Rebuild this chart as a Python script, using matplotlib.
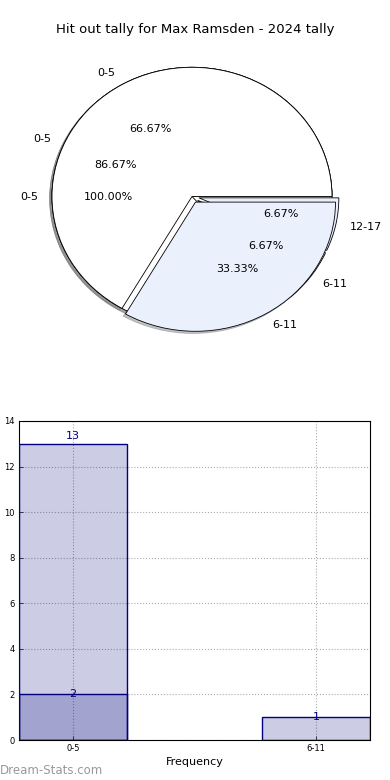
import matplotlib
matplotlib.use("Agg")
import matplotlib.pyplot as plt

# ---- data ----
title = "Hit out tally for Max Ramsden - 2024 tally"
pie_all_labels = ["0-5"]
pie_all_values = [15]
pie_career_labels = ["0-5", "6-11", "12-17"]
pie_career_values = [13, 1, 1]
pie_year_labels = ["0-5", "6-11"]
pie_year_values = [2, 1]

bar_categories = ["0-5", "6-11"]
bar_series_a = [13, None]
bar_series_b = [2, 1]
bar_xlabel = "Frequency"
bar_ylabel = "Hit Out Tally"
yticks = [0, 2, 4, 6, 8, 10, 12, 14]

W, H = 390, 780
fig = plt.figure(figsize=(W / 100, H / 100), dpi=100)
plt.rcParams['font.family'] = ['DejaVu Sans']

def ax_px(l, t, r, b):
    return fig.add_axes([l / W, 1 - b / H, (r - l) / W, (b - t) / H])

fig.text(195 / W, 1 - 30 / H, title, ha='center', va='center', fontsize=9.5)

# ---- pie ----
pax = ax_px(17, 35, 367, 358)
white = '#ffffff'
blue = '#eaf0fc'

def colors_for(labels):
    return [white if l == "0-5" else blue for l in labels]

def explode_for(labels):
    return [0 if l == "0-5" else 0.05 for l in labels]

for labels, vals in [(pie_all_labels, pie_all_values),
                     (pie_career_labels, pie_career_values),
                     (pie_year_labels, pie_year_values)]:
    wedges, texts, autotexts = pax.pie(
        vals, labels=labels, colors=colors_for(labels), explode=explode_for(labels),
        autopct='%1.2f%%', startangle=0,
        shadow=dict(ox=-0.012, oy=-0.012, shade=0.5, alpha=0.45),
        wedgeprops=dict(edgecolor='black', linewidth=0.6),
        textprops=dict(fontsize=8))
pax.set_aspect('auto')
pax.set_xlim(-1.25, 1.25)
pax.set_ylim(-1.25, 1.25)

# ---- bars ----
bax = ax_px(19, 421, 370, 740)
x = list(range(len(bar_categories)))
bw = 0.444
all_vals = [vv for s in [bar_series_a, bar_series_b] for vv in s if vv is not None]
for series in [bar_series_a, bar_series_b]:
    xs = [xi for xi, v in zip(x, series) if v is not None]
    vs = [v for v in series if v is not None]
    bax.bar(xs, vs, width=bw, color='navy', alpha=0.2, edgecolor='none', zorder=2)
    bax.bar(xs, vs, width=bw, fill=False, edgecolor='navy', linewidth=1, zorder=3)
    for xi, v in zip(xs, vs):
        big = v == max(all_vals)
        bax.text(xi, v + (0.12 if big else 0), str(v), ha='center',
                 va='bottom' if big else 'center', color='navy', fontsize=8, zorder=4)

bax.set_xlim(-bw / 2, len(x) - 1 + bw / 2)
bax.set_ylim(0, 14)
bax.set_xticks(x)
bax.set_xticklabels(bar_categories, fontsize=6)
bax.set_yticks(yticks)
bax.set_yticklabels([str(t) for t in yticks], fontsize=6)
bax.tick_params(length=3, width=0.5, pad=3, direction='in')
bax.grid(True, linestyle=':', color='#aaaaaa', linewidth=0.8, zorder=1)
bax.set_axisbelow(True)
bax.set_xlabel(bar_xlabel, fontsize=8, labelpad=3)
bax.set_ylabel(bar_ylabel, fontsize=7, labelpad=5)
for s in bax.spines.values():
    s.set_linewidth(0.8)

fig.text(0 / W, 1 - 771 / H, "Dream-Stats.com", ha='left', va='center',
         fontsize=8.5, color='#999999')

fig.savefig("out.png", dpi=100)
